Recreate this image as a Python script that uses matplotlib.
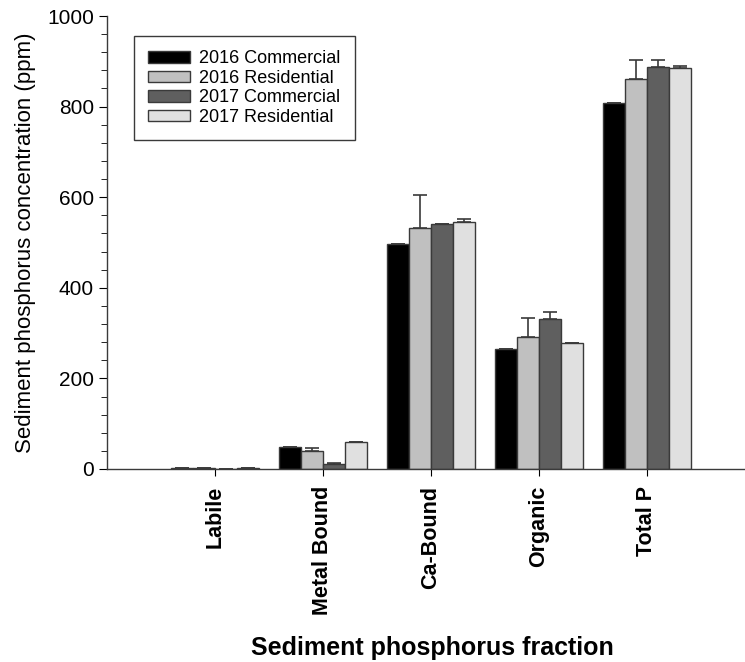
import numpy as np
import matplotlib
matplotlib.use("Agg")
import matplotlib.pyplot as plt

plt.rcParams['font.family'] = ['Liberation Sans', 'DejaVu Sans']

fractions = ["Labile", "Metal Bound", "Ca-Bound", "Organic", "Total P"]
series = ["2016 Commercial", "2016 Residential", "2017 Commercial", "2017 Residential"]

c16 = [2, 48, 496, 264, 807]
r16 = [2, 40, 531, 291, 862]
c17 = [1, 12, 540, 331, 887]
r17 = [2, 60, 545, 278, 885]

c16_err = [0, 0, 0, 0, 0]
r16_err = [0, 7, 73, 42, 40]
c17_err = [0, 2, 0, 16, 16]
r17_err = [0, 0, 6, 0, 5]

values = [c16, r16, c17, r17]
errors = [c16_err, r16_err, c17_err, r17_err]
colors = ["#000000", "#c0c0c0", "#5f5f5f", "#e0e0e0"]

fig = plt.figure(figsize=(7.45, 6.62), dpi=100)
# axis line runs off the right edge, as in the reference
x_right = 5.2
ax = fig.add_axes([107/745, 1-469/662, (x_right + 1) * 108/745, 453/662])

x = np.arange(len(fractions))
w = 0.204
for i in range(4):
    pos = x + (i - 1.5) * w
    err = np.array(errors[i])
    ax.bar(pos, values[i], w, color=colors[i], edgecolor="#3a3a3a", linewidth=1.0,
           label=series[i], zorder=2)
    ax.errorbar(pos, values[i], yerr=[np.zeros_like(err), err], fmt="none",
                ecolor="#3a3a3a", elinewidth=1.2, capsize=5, capthick=1.2, zorder=3)

ax.set_xlim(-1, x_right)
ax.set_ylim(0, 1000)
ax.set_yticks([0, 200, 400, 600, 800, 1000])
ax.set_yticks(np.arange(0, 1001, 40), minor=True)
ax.set_xticks(x)
ax.set_xticklabels(fractions, rotation=90, fontsize=15.5, fontweight="bold", va="top")
ax.tick_params(axis="x", direction="out", length=5, pad=7)
ax.tick_params(axis="y", which="major", direction="out", length=6, labelsize=15)
ax.tick_params(axis="y", which="minor", direction="out", length=4)

for s in ["top", "right"]:
    ax.spines[s].set_visible(False)
for s in ["left", "bottom"]:
    ax.spines[s].set_color("#3a3a3a")
    ax.spines[s].set_linewidth(1.0)

ax.set_ylabel("Sediment phosphorus concentration (ppm)", fontsize=16, labelpad=8)
fig.text(432/745, 1-648/662, "Sediment phosphorus fraction", fontsize=18,
         fontweight="bold", ha="center", va="center")

leg = ax.legend(loc="upper left", bbox_to_anchor=(27/745, 1-36/662),
                bbox_transform=fig.transFigure, fontsize=13,
                frameon=True, fancybox=False, edgecolor="#3a3a3a", framealpha=1,
                handlelength=2.3, handleheight=0.6, labelspacing=0.14,
                borderpad=0.8, handletextpad=0.5, borderaxespad=0)
leg.set_bbox_to_anchor((134/745, 1-36/662), transform=fig.transFigure)
leg.get_frame().set_linewidth(1.0)

fig.savefig("out.png", dpi=100)
